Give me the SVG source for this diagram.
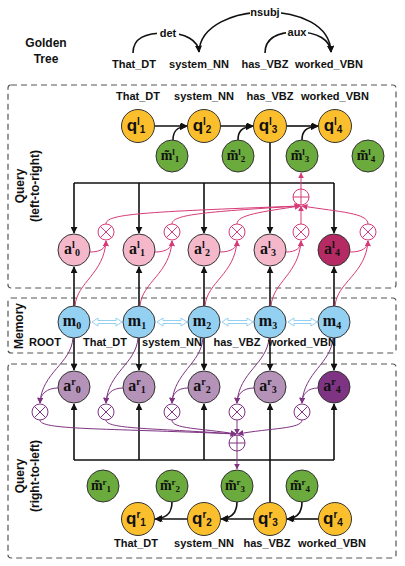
<svg xmlns="http://www.w3.org/2000/svg" width="405" height="566" viewBox="0 0 405 566">
<defs>
<marker id="ab" viewBox="0 0 10 10" refX="9" refY="5" markerWidth="7" markerHeight="7" orient="auto-start-reverse" markerUnits="userSpaceOnUse"><path d="M0,0L10,5L0,10z" fill="#111"/></marker>
<marker id="ap" viewBox="0 0 10 10" refX="9" refY="5" markerWidth="6" markerHeight="6" orient="auto" markerUnits="userSpaceOnUse"><path d="M0,0L10,5L0,10z" fill="#D63A77"/></marker>
<marker id="av" viewBox="0 0 10 10" refX="9" refY="5" markerWidth="6" markerHeight="6" orient="auto" markerUnits="userSpaceOnUse"><path d="M0,0L10,5L0,10z" fill="#7E3482"/></marker>
</defs>
<style>
.lbl{font-family:"Liberation Sans",Arial,sans-serif;font-weight:bold;font-size:11px;fill:#111;text-anchor:middle}
.side{font-family:"Liberation Sans",Arial,sans-serif;font-weight:bold;font-size:12px;fill:#111;text-anchor:middle}
.box{fill:none;stroke:#555;stroke-width:1.2;stroke-dasharray:6,4}
.nd{stroke:#333;stroke-width:1}
.q{fill:#FBBF2E}
.mt{fill:#6BAA3C}
.al{fill:#F5B8CB}
.al4{fill:#B52A62}
.m{fill:#93D0F2}
.ar{fill:#B592B8}
.ar4{fill:#7E3482}
.tq{font-family:"Liberation Sans",Arial,sans-serif;font-weight:bold;font-size:17px;fill:#111;text-anchor:middle}
.ts{font-family:"Liberation Serif","Times New Roman",serif;font-weight:bold;font-size:16px;fill:#111;text-anchor:middle}
.tm{font-family:"Liberation Serif","Times New Roman",serif;font-weight:bold;font-size:14px;fill:#111;text-anchor:middle}
.blk{fill:none;stroke:#111;stroke-width:1.6}
.pk{fill:none;stroke:#D63A77;stroke-width:1}
.pu{fill:none;stroke:#7E3482;stroke-width:1}
.opp{fill:#fff;stroke:#D63A77;stroke-width:1}
.opv{fill:#fff;stroke:#7E3482;stroke-width:1}
</style>

<g id="golden-tree">
<text class="side" x="46" y="47">Golden</text>
<text class="side" x="46" y="63">Tree</text>
<text class="lbl" x="134" y="68">That_DT</text>
<text class="lbl" x="199" y="68">system_NN</text>
<text class="lbl" x="265" y="68">has_VBZ</text>
<text class="lbl" x="329" y="68">worked_VBN</text>
<path class="blk" d="M133,53 C133,38 145,33 166,33 C185,33 198,40 199,52" stroke-width="1.2" marker-end="url(#ab)"/>
<path class="blk" d="M199,52 C200,25 235,12 265,12 C300,12 330,25 331,52" stroke-width="1.2" marker-end="url(#ab)"/>
<path class="blk" d="M265,53 C265,38 278,32 297,32 C318,32 330,40 331,52" stroke-width="1.2" marker-end="url(#ab)"/>
<rect x="157" y="28" width="22" height="10" fill="#fff"/>
<text class="lbl" x="168" y="37">det</text>
<rect x="250" y="7" width="31" height="10" fill="#fff"/>
<text class="lbl" x="265" y="16">nsubj</text>
<rect x="286" y="27" width="22" height="10" fill="#fff"/>
<text class="lbl" x="297" y="36">aux</text>
</g>

<g id="boxes">
<rect class="box" x="8" y="85" width="388" height="203" rx="3"/>
<rect class="box" x="8" y="298" width="388" height="55" rx="3"/>
<rect class="box" x="8" y="364" width="388" height="194" rx="3"/>
<text class="side" transform="translate(24,186) rotate(-90)">Query</text>
<text class="side" transform="translate(39,186) rotate(-90)">(left-to-right)</text>
<text class="side" transform="translate(23,326) rotate(-90)">Memory</text>
<text class="side" transform="translate(24,476) rotate(-90)">Query</text>
<text class="side" transform="translate(39,476) rotate(-90)">(right-to-left)</text>
</g>

<g id="connectors">
<line class="blk" x1="154.5" y1="126" x2="187" y2="126" marker-end="url(#ab)"/>
<line class="blk" x1="220.5" y1="126" x2="253" y2="126" marker-end="url(#ab)"/>
<line class="blk" x1="286.5" y1="126" x2="318" y2="126" marker-end="url(#ab)"/>
<path class="blk" d="M173,140 C173,131 177,127 186,126.5" marker-end="url(#ab)"/>
<path class="blk" d="M238,140 C238,131 242,127 252,126.5" marker-end="url(#ab)"/>
<path class="blk" d="M302,140 C302,131 306,127 317,126.5" marker-end="url(#ab)"/>
<line class="blk" x1="270" y1="142.5" x2="270" y2="183"/>
<line class="blk" x1="74" y1="183" x2="334" y2="183"/>
<line class="blk" x1="74" y1="183" x2="74" y2="233" marker-end="url(#ab)"/>
<line class="blk" x1="139" y1="183" x2="139" y2="233" marker-end="url(#ab)"/>
<line class="blk" x1="204" y1="183" x2="204" y2="233" marker-end="url(#ab)"/>
<line class="blk" x1="270" y1="183" x2="270" y2="233" marker-end="url(#ab)"/>
<line class="blk" x1="334" y1="183" x2="334" y2="233" marker-end="url(#ab)"/>
<line class="blk" x1="74" y1="306" x2="74" y2="267" marker-end="url(#ab)"/>
<line class="blk" x1="139" y1="306" x2="139" y2="267" marker-end="url(#ab)"/>
<line class="blk" x1="204" y1="306" x2="204" y2="267" marker-end="url(#ab)"/>
<line class="blk" x1="270" y1="306" x2="270" y2="267" marker-end="url(#ab)"/>
<line class="blk" x1="334" y1="306" x2="334" y2="267" marker-end="url(#ab)"/>
<line class="blk" x1="74" y1="338" x2="74" y2="370" marker-end="url(#ab)"/>
<line class="blk" x1="139" y1="338" x2="139" y2="370" marker-end="url(#ab)"/>
<line class="blk" x1="204" y1="338" x2="204" y2="370" marker-end="url(#ab)"/>
<line class="blk" x1="270" y1="338" x2="270" y2="370" marker-end="url(#ab)"/>
<line class="blk" x1="334" y1="338" x2="334" y2="370" marker-end="url(#ab)"/>
<line class="blk" x1="74" y1="460" x2="334" y2="460"/>
<line class="blk" x1="74" y1="460" x2="74" y2="404" marker-end="url(#ab)"/>
<line class="blk" x1="139" y1="460" x2="139" y2="404" marker-end="url(#ab)"/>
<line class="blk" x1="204" y1="460" x2="204" y2="404" marker-end="url(#ab)"/>
<line class="blk" x1="270" y1="460" x2="270" y2="404" marker-end="url(#ab)"/>
<line class="blk" x1="334" y1="460" x2="334" y2="404" marker-end="url(#ab)"/>
<line class="blk" x1="270" y1="460" x2="270" y2="502.5"/>
<line class="blk" x1="318.5" y1="519" x2="287" y2="519" marker-end="url(#ab)"/>
<line class="blk" x1="253.5" y1="519" x2="221" y2="519" marker-end="url(#ab)"/>
<line class="blk" x1="187.5" y1="519" x2="155" y2="519" marker-end="url(#ab)"/>
<path class="blk" d="M302,502 C302,512 298,518 288,519" marker-end="url(#ab)"/>
<path class="blk" d="M237,502 C237,512 233,518 222,519" marker-end="url(#ab)"/>
<path class="blk" d="M172,502 C172,512 168,518 156,519" marker-end="url(#ab)"/>

<g stroke="#93D0F2" fill="#fff" stroke-width="1">
<path d="M92,322 l6,-4 v2.5 h18 v-2.5 l6,4 l-6,4 v-2.5 h-18 v2.5z"/>
<path d="M157,322 l6,-4 v2.5 h18 v-2.5 l6,4 l-6,4 v-2.5 h-18 v2.5z"/>
<path d="M222,322 l6,-4 v2.5 h19 v-2.5 l6,4 l-6,4 v-2.5 h-19 v2.5z"/>
<path d="M288,322 l6,-4 v2.5 h17 v-2.5 l6,4 l-6,4 v-2.5 h-17 v2.5z"/>
</g>

<path class="pk" d="M90,252 C101,252 106,248 106,241" marker-end="url(#ap)"/>
<path class="pk" d="M155,252 C166,252 172,248 172,241" marker-end="url(#ap)"/>
<path class="pk" d="M220,252 C231,252 237,248 237,241" marker-end="url(#ap)"/>
<path class="pk" d="M286,252 C296,252 301,248 301,241" marker-end="url(#ap)"/>
<path class="pk" d="M350,252 C362,252 368,248 368,241" marker-end="url(#ap)"/>
<path class="pk" d="M75,306 C77,282 104,274 106,241" marker-end="url(#ap)"/>
<path class="pk" d="M140,306 C142,282 170,274 172,241" marker-end="url(#ap)"/>
<path class="pk" d="M205,306 C207,282 235,274 237,241" marker-end="url(#ap)"/>
<path class="pk" d="M271,306 C273,282 299,274 301,241" marker-end="url(#ap)"/>
<path class="pk" d="M335,306 C337,282 366,274 368,241" marker-end="url(#ap)"/>
<path class="pk" d="M106,224 C106,214 140,212 300,206" marker-end="url(#ap)"/>
<path class="pk" d="M172,224 C172,215 200,212 300,206" marker-end="url(#ap)"/>
<path class="pk" d="M237,224 C237,215 260,212 300,206" marker-end="url(#ap)"/>
<line class="pk" x1="301" y1="224" x2="301" y2="206" marker-end="url(#ap)"/>
<path class="pk" d="M368,224 C368,213 340,212 302,206" marker-end="url(#ap)"/>
<line class="pk" x1="301" y1="189" x2="301" y2="173" marker-end="url(#ap)"/>

<path class="pu" d="M58,388 C47,388 40,394 40,403" marker-end="url(#av)"/>
<path class="pu" d="M123,388 C112,388 106,394 106,403" marker-end="url(#av)"/>
<path class="pu" d="M188,388 C177,388 172,394 172,403" marker-end="url(#av)"/>
<path class="pu" d="M254,388 C243,388 237,394 237,403" marker-end="url(#av)"/>
<path class="pu" d="M318,388 C308,388 302,394 302,403" marker-end="url(#av)"/>
<path class="pu" d="M73,338 C71,364 42,372 40,403" marker-end="url(#av)"/>
<path class="pu" d="M138,338 C136,364 108,372 106,403" marker-end="url(#av)"/>
<path class="pu" d="M203,338 C201,364 174,372 172,403" marker-end="url(#av)"/>
<path class="pu" d="M269,338 C267,364 239,372 237,403" marker-end="url(#av)"/>
<path class="pu" d="M333,338 C331,364 304,372 302,403" marker-end="url(#av)"/>
<path class="pu" d="M40,420 C40,430 100,428 236,434" marker-end="url(#av)"/>
<path class="pu" d="M106,420 C106,429 150,428 236,434" marker-end="url(#av)"/>
<path class="pu" d="M172,420 C172,429 200,428 236,434" marker-end="url(#av)"/>
<line class="pu" x1="237" y1="420" x2="237" y2="434" marker-end="url(#av)"/>
<path class="pu" d="M302,420 C302,429 270,428 238,434" marker-end="url(#av)"/>
<line class="pu" x1="237" y1="451" x2="237" y2="469" marker-end="url(#av)"/>
</g>

<g id="ops-upper">
<g class="opp"><circle cx="106" cy="232" r="8"/><path d="M100.3,226.3L111.7,237.7M111.7,226.3L100.3,237.7"/></g>
<g class="opp"><circle cx="172" cy="232" r="8"/><path d="M166.3,226.3L177.7,237.7M177.7,226.3L166.3,237.7"/></g>
<g class="opp"><circle cx="237" cy="232" r="8"/><path d="M231.3,226.3L242.7,237.7M242.7,226.3L231.3,237.7"/></g>
<g class="opp"><circle cx="301" cy="232" r="8"/><path d="M295.3,226.3L306.7,237.7M306.7,226.3L295.3,237.7"/></g>
<g class="opp"><circle cx="368" cy="232" r="8"/><path d="M362.3,226.3L373.7,237.7M373.7,226.3L362.3,237.7"/></g>
<g class="opp"><circle cx="301" cy="197" r="8"/><path d="M293,197H309M301,189V205"/></g>
</g>

<g id="ops-lower">
<g class="opv"><circle cx="40" cy="412" r="8"/><path d="M34.3,406.3L45.7,417.7M45.7,406.3L34.3,417.7"/></g>
<g class="opv"><circle cx="106" cy="412" r="8"/><path d="M100.3,406.3L111.7,417.7M111.7,406.3L100.3,417.7"/></g>
<g class="opv"><circle cx="172" cy="412" r="8"/><path d="M166.3,406.3L177.7,417.7M177.7,406.3L166.3,417.7"/></g>
<g class="opv"><circle cx="237" cy="412" r="8"/><path d="M231.3,406.3L242.7,417.7M242.7,406.3L231.3,417.7"/></g>
<g class="opv"><circle cx="302" cy="412" r="8"/><path d="M296.3,406.3L307.7,417.7M307.7,406.3L296.3,417.7"/></g>
<g class="opv"><circle cx="237" cy="443" r="8"/><path d="M229,443H245M237,435V451"/></g>
</g>

<g id="ql-labels">
<text class="lbl" x="138" y="100">That_DT</text>
<text class="lbl" x="204" y="100">system_NN</text>
<text class="lbl" x="270" y="100">has_VBZ</text>
<text class="lbl" x="335" y="100">worked_VBN</text>
</g>
<g id="ql1"><circle class="nd q" cx="138" cy="126" r="16.5"/><text class="tq" x="136" y="131">q<tspan font-size="10" dy="-6">l</tspan><tspan font-size="10" dy="8">1</tspan></text></g>
<g id="ql2"><circle class="nd q" cx="204" cy="126" r="16.5"/><text class="tq" x="202" y="131">q<tspan font-size="10" dy="-6">l</tspan><tspan font-size="10" dy="8">2</tspan></text></g>
<g id="ql3"><circle class="nd q" cx="270" cy="126" r="16.5"/><text class="tq" x="268" y="131">q<tspan font-size="10" dy="-6">l</tspan><tspan font-size="10" dy="8">3</tspan></text></g>
<g id="ql4"><circle class="nd q" cx="335" cy="126" r="16.5"/><text class="tq" x="333" y="131">q<tspan font-size="10" dy="-6">l</tspan><tspan font-size="10" dy="8">4</tspan></text></g>
<g id="mtl1"><circle class="nd mt" cx="172" cy="156" r="16"/><text class="tm" x="170" y="160">m̃<tspan font-size="9" dy="-5">l</tspan><tspan font-size="9" dy="7">1</tspan></text></g>
<g id="mtl2"><circle class="nd mt" cx="238" cy="156" r="16"/><text class="tm" x="236" y="160">m̃<tspan font-size="9" dy="-5">l</tspan><tspan font-size="9" dy="7">2</tspan></text></g>
<g id="mtl3"><circle class="nd mt" cx="302" cy="156" r="16"/><text class="tm" x="300" y="160">m̃<tspan font-size="9" dy="-5">l</tspan><tspan font-size="9" dy="7">3</tspan></text></g>
<g id="mtl4"><circle class="nd mt" cx="368" cy="156" r="16"/><text class="tm" x="366" y="160">m̃<tspan font-size="9" dy="-5">l</tspan><tspan font-size="9" dy="7">4</tspan></text></g>

<g id="al0"><circle class="nd al" cx="74" cy="250" r="16"/><text class="ts" x="72" y="254">a<tspan font-size="10" dy="-6">l</tspan><tspan font-size="10" dy="8">0</tspan></text></g>
<g id="al1"><circle class="nd al" cx="139" cy="250" r="16"/><text class="ts" x="137" y="254">a<tspan font-size="10" dy="-6">l</tspan><tspan font-size="10" dy="8">1</tspan></text></g>
<g id="al2"><circle class="nd al" cx="204" cy="250" r="16"/><text class="ts" x="202" y="254">a<tspan font-size="10" dy="-6">l</tspan><tspan font-size="10" dy="8">2</tspan></text></g>
<g id="al3"><circle class="nd al" cx="270" cy="250" r="16"/><text class="ts" x="268" y="254">a<tspan font-size="10" dy="-6">l</tspan><tspan font-size="10" dy="8">3</tspan></text></g>
<g id="al4"><circle class="nd al4" cx="334" cy="250" r="16"/><text class="ts" x="332" y="254">a<tspan font-size="10" dy="-6">l</tspan><tspan font-size="10" dy="8">4</tspan></text></g>

<g id="m0"><circle class="nd m" cx="74" cy="322" r="16"/><text class="ts" x="72" y="326">m<tspan font-size="10" dy="3">0</tspan></text></g>
<g id="m1"><circle class="nd m" cx="139" cy="322" r="16"/><text class="ts" x="137" y="326">m<tspan font-size="10" dy="3">1</tspan></text></g>
<g id="m2"><circle class="nd m" cx="204" cy="322" r="16"/><text class="ts" x="202" y="326">m<tspan font-size="10" dy="3">2</tspan></text></g>
<g id="m3"><circle class="nd m" cx="270" cy="322" r="16"/><text class="ts" x="268" y="326">m<tspan font-size="10" dy="3">3</tspan></text></g>
<g id="m4"><circle class="nd m" cx="334" cy="322" r="16"/><text class="ts" x="332" y="326">m<tspan font-size="10" dy="3">4</tspan></text></g>
<g id="mem-labels">
<text class="lbl" x="45" y="346" font-size="10">ROOT</text>
<text class="lbl" x="105" y="346" font-size="10">That_DT</text>
<text class="lbl" x="172" y="346" font-size="10">system_NN</text>
<text class="lbl" x="237" y="346" font-size="10">has_VBZ</text>
<text class="lbl" x="302" y="346" font-size="10">worked_VBN</text>
</g>

<g id="ar0"><circle class="nd ar" cx="74" cy="387" r="16"/><text class="ts" x="72" y="391">a<tspan font-size="10" dy="-6">r</tspan><tspan font-size="10" dy="8">0</tspan></text></g>
<g id="ar1"><circle class="nd ar" cx="139" cy="387" r="16"/><text class="ts" x="137" y="391">a<tspan font-size="10" dy="-6">r</tspan><tspan font-size="10" dy="8">1</tspan></text></g>
<g id="ar2"><circle class="nd ar" cx="204" cy="387" r="16"/><text class="ts" x="202" y="391">a<tspan font-size="10" dy="-6">r</tspan><tspan font-size="10" dy="8">2</tspan></text></g>
<g id="ar3"><circle class="nd ar" cx="270" cy="387" r="16"/><text class="ts" x="268" y="391">a<tspan font-size="10" dy="-6">r</tspan><tspan font-size="10" dy="8">3</tspan></text></g>
<g id="ar4"><circle class="nd ar4" cx="334" cy="387" r="16"/><text class="ts" x="332" y="391">a<tspan font-size="10" dy="-6">r</tspan><tspan font-size="10" dy="8">4</tspan></text></g>

<g id="mtr1"><circle class="nd mt" cx="103" cy="486" r="16"/><text class="tm" x="101" y="490">m̃<tspan font-size="9" dy="-5">r</tspan><tspan font-size="9" dy="7">1</tspan></text></g>
<g id="mtr2"><circle class="nd mt" cx="172" cy="486" r="16"/><text class="tm" x="170" y="490">m̃<tspan font-size="9" dy="-5">r</tspan><tspan font-size="9" dy="7">2</tspan></text></g>
<g id="mtr3"><circle class="nd mt" cx="237" cy="486" r="16"/><text class="tm" x="235" y="490">m̃<tspan font-size="9" dy="-5">r</tspan><tspan font-size="9" dy="7">3</tspan></text></g>
<g id="mtr4"><circle class="nd mt" cx="302" cy="486" r="16"/><text class="tm" x="300" y="490">m̃<tspan font-size="9" dy="-5">r</tspan><tspan font-size="9" dy="7">4</tspan></text></g>
<g id="qr1"><circle class="nd q" cx="138" cy="519" r="16.5"/><text class="tq" x="136" y="524">q<tspan font-size="10" dy="-6">r</tspan><tspan font-size="10" dy="8">1</tspan></text></g>
<g id="qr2"><circle class="nd q" cx="204" cy="519" r="16.5"/><text class="tq" x="202" y="524">q<tspan font-size="10" dy="-6">r</tspan><tspan font-size="10" dy="8">2</tspan></text></g>
<g id="qr3"><circle class="nd q" cx="270" cy="519" r="16.5"/><text class="tq" x="268" y="524">q<tspan font-size="10" dy="-6">r</tspan><tspan font-size="10" dy="8">3</tspan></text></g>
<g id="qr4"><circle class="nd q" cx="335" cy="519" r="16.5"/><text class="tq" x="333" y="524">q<tspan font-size="10" dy="-6">r</tspan><tspan font-size="10" dy="8">4</tspan></text></g>
<g id="qr-labels">
<text class="lbl" x="136" y="547">That_DT</text>
<text class="lbl" x="204" y="547">system_NN</text>
<text class="lbl" x="267" y="547">has_VBZ</text>
<text class="lbl" x="332" y="547">worked_VBN</text>
</g>
</svg>
